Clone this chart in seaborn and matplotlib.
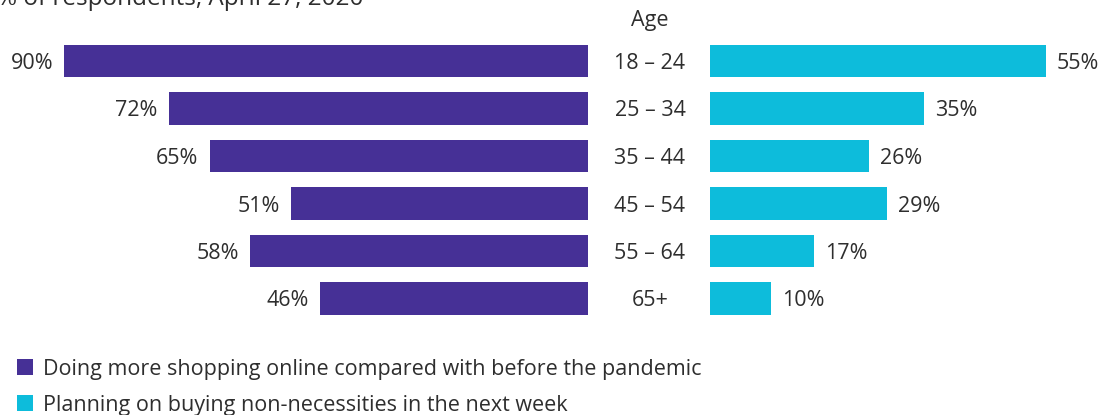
import matplotlib
matplotlib.use("Agg")
import matplotlib.pyplot as plt
from matplotlib.patches import Patch
import seaborn as sns
import pandas as pd

# Survey results by age group
ages = ["18 – 24", "25 – 34", "35 – 44", "45 – 54", "55 – 64", "65+"]
online_more = [90, 72, 65, 51, 58, 46]
non_necessities = [55, 35, 26, 29, 17, 10]
series_labels = [
    "Doing more shopping online compared with before the pandemic",
    "Planning on buying non-necessities in the next week",
]
subtitle = "% of respondents, April 27, 2020"
axis_title = "Age"

PURPLE = "#463096"
CYAN = "#0DBCDB"
TEXT = "#2e2e2e"
FS = 15.5

sns.set_theme(style="white")
plt.rcParams["font.family"] = ["Open Sans", "DejaVu Sans"]
plt.rcParams["text.color"] = TEXT

W, H = 1103, 415
fig = plt.figure(figsize=(W / 100, H / 100), dpi=100)

row_top, row_bot = 37.25, 322.25
bottom = 1 - row_bot / H
height = (row_bot - row_top) / H

ax_l = fig.add_axes([64 / W, bottom, (588 - 64) / W, height])
ax_r = fig.add_axes([710 / W, bottom, (1046 - 710) / W, height])

df = pd.DataFrame({"age": ages, "online": online_more, "nonnec": non_necessities})

sns.barplot(data=df, x="online", y="age", ax=ax_l, color=PURPLE,
            width=0.674, saturation=1, orient="h", linewidth=0)
sns.barplot(data=df, x="nonnec", y="age", ax=ax_r, color=CYAN,
            width=0.674, saturation=1, orient="h", linewidth=0)

ax_l.set_xlim(90, 0)
ax_r.set_xlim(0, 55)

# Value labels just outside the bar ends
for ax, vals, dx, ha in ((ax_l, online_more, -11, "right"),
                         (ax_r, non_necessities, 11, "left")):
    for i, v in enumerate(vals):
        ax.annotate(f"{v}%", xy=(v, i), xytext=(dx, 0),
                    textcoords="offset pixels", ha=ha, va="center_baseline",
                    fontsize=FS, color=TEXT, annotation_clip=False)
    ax.set_xlabel("")
    ax.set_ylabel("")
    ax.set_xticks([])
    ax.set_yticks([])
    for sp in ax.spines.values():
        sp.set_visible(False)

# Age labels in the gap between the two bar groups
for i, a in enumerate(ages):
    ax_l.annotate(a, xy=(0, i), xycoords="data", xytext=(650 - 588, 0),
                  textcoords="offset pixels", ha="center",
                  va="center_baseline", fontsize=FS, color=TEXT,
                  annotation_clip=False)

fig.text(650 / W, 1 - 18 / H, axis_title, ha="center",
         va="center_baseline", fontsize=FS, color=TEXT)
fig.text(-3 / W, 1 - 5 / H, subtitle, ha="left", va="baseline",
         fontsize=17.5, color=TEXT)

handles = [Patch(facecolor=PURPLE, edgecolor="none"),
           Patch(facecolor=CYAN, edgecolor="none")]
fig.legend(handles, series_labels, loc="upper left",
           bbox_to_anchor=(17 / W, 1 - 358.5 / H), frameon=False,
           fontsize=FS, handlelength=0.75, handleheight=0.75,
           handletextpad=0.45, labelspacing=0.7, borderaxespad=0,
           borderpad=0, labelcolor=TEXT)

fig.savefig("out.png", dpi=100)
